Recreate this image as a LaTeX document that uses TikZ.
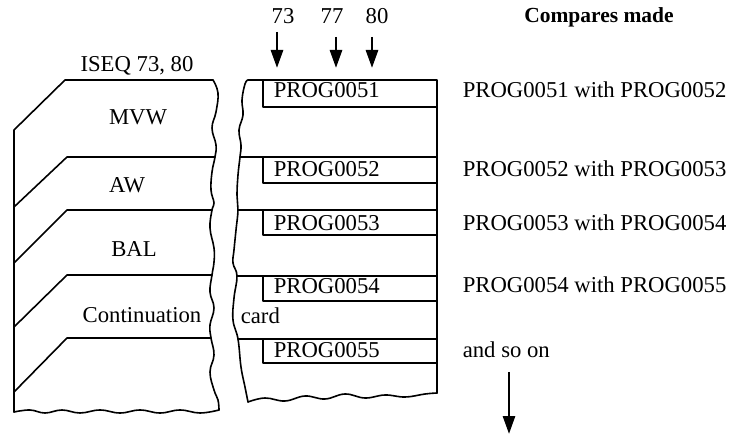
\documentclass[tikz,border=0pt]{standalone}
\usepackage{fontspec}
\setmainfont{Liberation Serif}
\usetikzlibrary{arrows.meta}
\begin{document}
\begin{tikzpicture}[x=1pt,y=-1pt, line width=1.6pt, line join=round, line cap=round,
  txt/.style={inner sep=0pt, font=\fontsize{22.7}{26}\selectfont},
  lblc/.style={txt, anchor=base},
  lblw/.style={txt, anchor=base west},
  bigarrow/.style={line width=2.8pt, line cap=butt, -{Triangle[length=18pt,width=12pt]}},
  wave/.style={smooth, tension=0.7}]
\useasboundingbox (0,0) rectangle (736,435);

% ---------- left card deck ----------
\draw (14,412) -- (14,130) -- (65,80) -- (213,80);
\draw plot[wave] coordinates {(213,80) (218,93) (216,112) (212,128) (216,145) (215,157) (212,172) (211,190) (214,203) (212,210) (210,228) (214,248) (214,262) (212,275) (210,292) (214,308) (210,325) (211,338) (214,355) (210,372) (214,390) (218,400) (219,410)};
\draw plot[wave] coordinates {(14,412) (30,410) (45,413) (62,410) (80,413) (100,410) (120,413) (140,410) (160,413) (180,410) (200,413) (219,410)};
\draw (14,207) -- (67,157) -- (215,157);
\draw (14,263) -- (67,210) -- (212,210);
\draw (14,327) -- (67,275) -- (212,275);
\draw (14,392) -- (67,338) -- (211,338);

% ---------- right card deck ----------
\draw plot[wave] coordinates {(248,80) (245,84) (242,100) (243,115) (239,130) (241,145) (240,157) (238,175) (237,195) (238,210) (236,230) (234,250) (233,263) (237,276) (234,298) (233,320) (238,339) (241,367) (245,387) (248,402)};
\draw plot[wave] coordinates {(248,402) (265,398) (285,401) (305,396) (325,399) (345,394) (365,398) (385,395) (405,397) (425,394) (437,393)};
\draw (248,80) -- (437,80) -- (437,393);
\draw (240,157) -- (437,157);
\draw (238,210) -- (437,210);
\draw (237,276) -- (437,276);
\draw (238,339) -- (437,339);
% fields 73-80
\draw (263,80) -- (263,107) -- (437,107);
\draw (263,157) -- (263,183) -- (437,183);
\draw (263,210) -- (263,235) -- (437,235);
\draw (263,276) -- (263,301) -- (437,301);
\draw (263,339) -- (263,363) -- (437,363);

% ---------- labels ----------
\node[lblc] (iseq) at (137,72) {ISEQ 73, 80};
\node[lblc] (mvw) at (138,125) {MVW};
\node[lblc] (aw) at (127,193) {AW};
\node[lblc] (bal) at (134,257) {BAL};
\node[lblc] (cont) at (142,323) {Continuation};
\node[lblw] (card) at (240,324) {card};

\node[lblw] (p51) at (273,98) {PROG0051};
\node[lblw] (p52) at (273,177) {PROG0052};
\node[lblw] (p53) at (273,231) {PROG0053};
\node[lblw] (p54) at (273,294) {PROG0054};
\node[lblw] (p55) at (273,358) {PROG0055};

\node[lblc] (c73) at (283,24) {73};
\node[lblc] (c77) at (332,24) {77};
\node[lblc] (c80) at (377,24) {80};

\node[txt, anchor=base, font=\fontsize{21.5}{26}\selectfont\bfseries] (cm) at (599,23) {Compares made};
\node[lblw] (r1) at (462,98) {PROG0051 with PROG0052};
\node[lblw] (r2) at (462,177) {PROG0052 with PROG0053};
\node[lblw] (r3) at (462,231) {PROG0053 with PROG0054};
\node[lblw] (r4) at (462,293) {PROG0054 with PROG0055};
\node[lblw] (r5) at (462,358) {and so on};

% ---------- arrows ----------
\coordinate (a73s) at (277,32); \coordinate (a73e) at (277,68);
\coordinate (a77s) at (336,37); \coordinate (a77e) at (336,68);
\coordinate (a80s) at (372,37); \coordinate (a80e) at (372,68);
\coordinate (aons) at (509,372); \coordinate (aone) at (509,434);
\draw[bigarrow] (a73s) -- (a73e);
\draw[bigarrow] (a77s) -- (a77e);
\draw[bigarrow] (a80s) -- (a80e);
\draw[bigarrow] (aons) -- (aone);
\end{tikzpicture}
\end{document}
